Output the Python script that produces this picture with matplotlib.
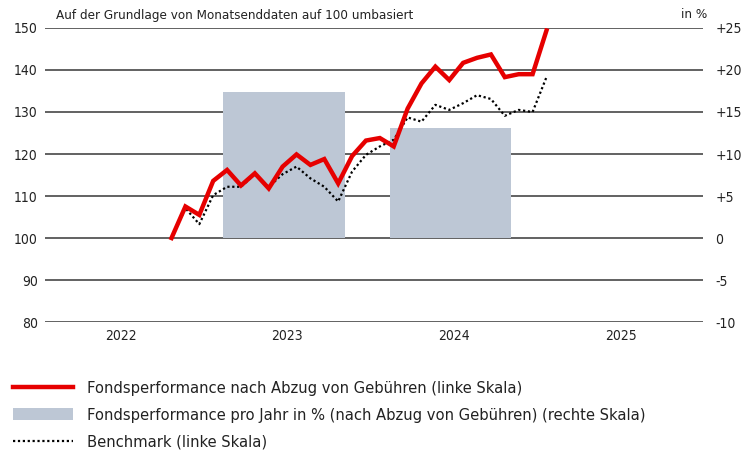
import matplotlib.pyplot as plt
import numpy as np

plt.rcParams['font.family'] = ['DejaVu Sans']
plt.rcParams['font.stretch'] = 'condensed'

# month-end index values, starting Sep 2022
start_year, start_month = 2022, 9
fund = [100, 107.5, 105.5, 113.6, 116.2, 112.5, 115.4, 111.8, 117.0, 119.9,
        117.4, 118.8, 113.0, 119.5, 123.2, 123.8, 121.8, 130.8, 136.8, 140.8,
        137.6, 141.7, 142.9, 143.7, 138.3, 139.0, 139.0, 149.4]
bench = [100, 107.1, 103.3, 110.2, 112.2, 112.2, 115.2, 112.2, 115.2, 117.0,
         114.2, 112.2, 108.7, 115.8, 119.8, 121.8, 123.4, 128.7, 127.7, 131.7,
         130.5, 132.1, 134.0, 133.1, 129.1, 130.5, 130.0, 138.3]

bar_years = [2023, 2024]
bar_values = [17.4, 13.1]

year_labels = ['2022', '2023', '2024', '2025']
left_ticks = [80, 90, 100, 110, 120, 130, 140, 150]
right_ticks = [-10, -5, 0, 5, 10, 15, 20, 25]
right_labels = ['-10', '-5', '0', '+5', '+10', '+15', '+20', '+25']

red = '#e60000'
grey_bar = '#bdc7d5'
grid_col = '#555555'

fig = plt.figure(figsize=(7.48, 4.5), dpi=100)
ax2 = fig.add_axes([0.060, 0.2844, 0.880, 0.6534])
ax = ax2.twinx()
ax.yaxis.tick_left()
ax2.yaxis.tick_right()
ax.set_zorder(ax2.get_zorder() + 1)
ax.patch.set_visible(False)

x = np.array([start_year + (start_month + i) / 12 for i in range(len(fund))])

# bars on the right scale (percent)
bars = ax2.bar(np.array(bar_years) + 0.425, bar_values, width=0.73,
               color=grey_bar, zorder=2)
ax2.set_ylim(-10, 25)
ax2.set_yticks(right_ticks)
ax2.set_yticklabels(right_labels)
ax2.yaxis.grid(True, color=grid_col, lw=1.3)
ax2.set_axisbelow(True)

l_fund, = ax.plot(x, fund, color=red, lw=3.2, solid_joinstyle='miter', zorder=4)
l_bench, = ax.plot(x, bench, color='black', lw=1.6, ls=(0, (1, 1.2)), zorder=3)
ax.set_ylim(80, 150)
ax.set_yticks(left_ticks)

ax.set_xlim(2021.99, 2025.94)
ax2.set_xticks([int(y) + 0.445 for y in year_labels])
ax2.set_xticklabels(year_labels)

for a in (ax, ax2):
    for s in a.spines.values():
        s.set_visible(False)
    a.tick_params(length=0, labelsize=10, colors='#222222')
ax.tick_params(axis='y', pad=5)
ax2.tick_params(axis='y', pad=9)
ax2.tick_params(axis='x', pad=5)

fig.text(56 / 748, 1 - 15 / 450, 'Auf der Grundlage von Monatsenddaten auf 100 umbasiert',
         ha='left', va='center', fontsize=9.6, color='#222222')
fig.text(707 / 748, 1 - 15 / 450, 'in %', ha='right', va='center',
         fontsize=9.6, color='#222222')

fig.legend([l_fund, bars, l_bench],
           ['Fondsperformance nach Abzug von Gebühren (linke Skala)',
            'Fondsperformance pro Jahr in % (nach Abzug von Gebühren) (rechte Skala)',
            'Benchmark (linke Skala)'],
           loc='upper left', bbox_to_anchor=(-0.003, 1 - 366 / 450), frameon=False,
           fontsize=11.8, handlelength=3.7, handletextpad=0.85, labelspacing=0.72,
           labelcolor='#222222')

fig.savefig('out.png', dpi=100)
